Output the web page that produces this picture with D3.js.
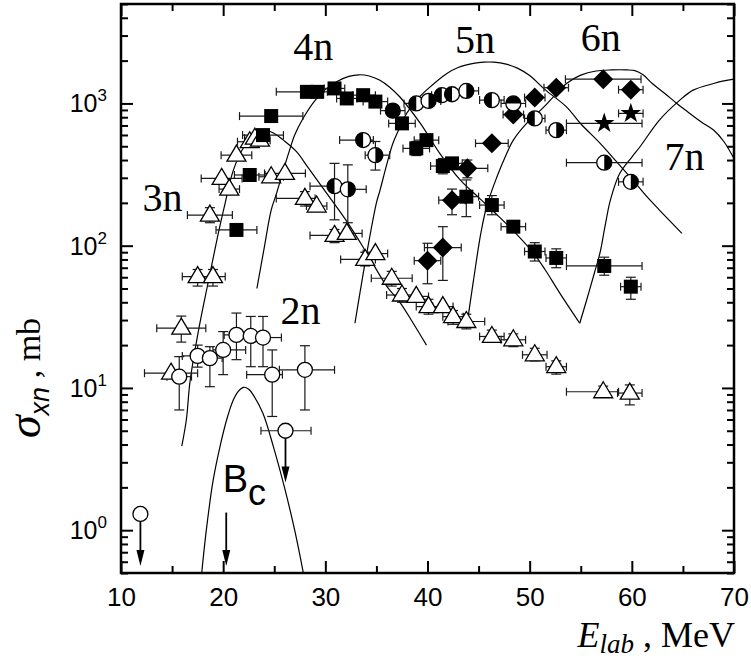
<!DOCTYPE html>
<html><head><meta charset="utf-8">
<script src="https://cdn.jsdelivr.net/npm/d3@7"></script>
<style>body{margin:0;background:#fff;} svg{display:block;}</style>
</head><body><svg id="c" width="751" height="664"></svg>
<script>
// ---------- data ----------
const xTicks = [10, 20, 30, 40, 50, 60, 70];
const xMinorTicks = [15, 25, 35, 45, 55, 65];
const yTicks = [1, 10, 100, 1000];
const yTickExp = ["0", "1", "2", "3"];
const yMinorTicks = [0.5,0.6,0.7,0.8,0.9,2,3,4,5,6,7,8,9,20,30,40,50,60,70,80,90,200,300,400,500,600,700,800,900,2000,3000,4000,5000];

// theory curves [E, sigma]
const curve2n = [[17.9,0.5],[18.35,1.0],[19.0,2.2],[19.7,3.9],[20.35,6.0],[21.0,8.25],[21.5,9.5],[22.0,10.1],[22.5,9.8],[23.0,8.8],[23.9,6.6],[24.9,3.9],[26.0,2.0],[27.0,1.0],[27.85,0.5]];
const curve3n = [[15.95,3.9],[16.4,6],[16.75,11],[17.57,25],[18.55,56],[19.5,120],[20.2,200],[21.0,340],[22.0,490],[23.0,590],[24.0,650],[25.0,615],[25.9,552],[27.2,457],[28.3,355],[30.1,235],[32.1,148],[34.0,90],[36.0,52],[37.3,40],[38.6,28.5],[39.9,20]];
const curve4n = [[23.3,50],[24.0,95],[24.7,178],[25.2,230],[26.0,360],[26.5,470],[27.0,600],[27.8,780],[29.0,1050],[30.0,1250],[31.1,1420],[32.3,1550],[33.3,1590],[34.3,1560],[35.3,1460],[36.3,1300],[37.3,1110],[39.3,724],[41.2,446],[43.2,290],[45.1,215],[46.8,165],[48.5,125],[50.3,90],[51.5,68],[52.9,47],[54.9,28.5]];
const curve5n = [[32.9,28.5],[34.0,84],[35.0,200],[35.35,245],[36.0,370],[36.6,520],[37.3,680],[37.95,850],[39.0,1070],[39.9,1240],[41.9,1625],[43.0,1790],[44.5,1910],[45.5,1950],[46.5,1950],[47.7,1890],[48.8,1770],[50.0,1570],[51.5,1250],[53.6,946],[55.0,720],[56.9,524],[58.5,390],[60.1,289],[61.5,220],[62.7,178],[64.9,122]];
const curve6n = [[43.9,29],[44.5,57],[45.2,120],[45.8,190],[46.8,305],[47.6,420],[48.4,552],[49.7,724],[51.5,960],[52.5,1150],[53.6,1380],[55.0,1580],[56.5,1690],[58.0,1720],[59.5,1720],[60.3,1700],[61.1,1590],[62.0,1380],[63.2,1180],[64.4,1000],[65.4,880],[66.8,740],[68.0,650],[69.0,540],[70,410]];
const curve7n = [[54.9,28.5],[55.6,42],[56.3,63],[56.9,90],[57.4,140],[57.9,209],[58.8,320],[60.0,420],[60.8,496],[62.7,764],[64.7,1055],[66.0,1240],[68.0,1380],[69.0,1440],[70,1480]];

// data points: [E, sigma, dxLeft, dxRight, sigmaLow, sigmaHigh]
const triangles = [
 [14.9,12.7,2.6,2.6,0,0],[15.9,26.3,2.4,2.4,21,32],[17.5,60.6,1.5,1.5,52,68],[19.0,60.6,1.2,1.2,52,68],
 [18.7,164,2.2,2.2,145,185],[19.85,297,2.0,2.0,0,0],[20.6,250,1.0,1.0,0,0],[21.3,433,1.5,1.5,0,0],
 [22.6,538,1.2,1.2,0,0],[23.1,570,1.0,1.0,0,0],[23.6,552,1.0,1.0,0,0],[24.7,305,1.2,1.2,0,0],
 [26.05,322,2.0,2.0,0,0],[28.0,215,2.8,1.0,190,240],[29.15,190,1.0,1.0,0,0],[30.9,118,2.4,1.0,105,130],
 [32.1,122,1.5,1.5,0,0],[33.9,80,2.4,1.0,72,90],[34.9,88,1.2,1.2,0,0],[36.5,59,2.0,2.0,52,66],
 [37.5,45,1.5,1.5,40,50],[38.9,44,1.2,1.2,0,0],[40.1,37.3,1.2,1.2,33,42],[41.5,37.3,1.0,1.0,0,0],
 [42.5,31.7,1.0,1.0,28,35],[43.8,29.3,1.8,1.8,26,33],[46.3,23,1.2,1.2,21,25.5],[48.4,21.8,1.2,1.2,19.5,24],
 [50.5,17.1,1.2,1.2,15.5,19],[52.6,14.1,1.0,1.0,12.5,15.5],[57.2,9.4,3.6,1.5,8.6,10.3],[59.8,9.2,1.2,1.2,7.6,10.5]
];
const squares = [
 [21.3,129,2.0,2.0,118,140],[22.6,314,1.5,1.5,290,340],[23.9,599,2.0,2.0,550,650],[24.7,815,3.1,3.1,0,0],
 [28.2,1206,3.0,1.0,0,0],[29.2,1206,1.0,1.0,0,0],[30.9,1275,1.0,1.0,0,0],[32.1,1084,1.0,1.0,0,0],
 [33.7,1143,1.0,1.2,0,0],[34.9,1030,1.2,1.2,0,0],[37.5,724,1.3,1.3,0,0],[38.9,483,1.3,1.3,430,540],
 [39.9,552,1.2,1.2,0,0],[41.5,363,1.2,1.2,320,410],[42.4,379,1.0,1.0,0,0],[43.8,221,1.2,1.2,160,290],
 [46.3,193,1.2,1.2,165,225],[48.4,136,1.2,1.2,0,0],[50.5,91,1.0,1.0,78,105],[52.6,82,1.0,1.0,70,95],
 [57.3,72,3.7,3.7,62,83],[59.9,51.5,1.0,1.0,42,60]
];
const diamonds = [
 [40.0,78.5,1.3,1.3,54,104],[41.5,97,1.8,1.8,57,136],[42.4,209,1.3,1.3,165,250],[43.9,350,2.0,2.0,300,400],
 [46.3,524,1.6,1.6,0,0],[48.4,835,1.0,1.0,0,0],[50.5,1100,1.0,1.0,0,0],[52.6,1290,1.2,1.2,0,0],
 [57.2,1480,3.7,3.7,0,0],[59.9,1250,1.2,1.2,0,0]
];
const stars = [[57.3,724,3.7,3.7,0,0],[59.9,851,1.2,1.2,0,0]];
// half-filled circles: last field = which part is black (L, R, F = full, T = top)
const halfCircles = [
 [30.9,262,2.4,1.0,152,379,"L"],[32.2,249,1.0,1.8,145,370,"R"],[33.7,553,2.3,1.0,0,0,"L"],[34.9,433,1.0,1.4,340,540,"R"],
 [36.6,890,1.2,1.2,0,0,"F"],[38.9,1000,1.2,1.2,0,0,"L"],[40.1,1042,1.2,1.2,0,0,"R"],[41.4,1143,1.0,1.0,0,0,"L"],
 [42.4,1160,1.0,1.0,0,0,"L"],[43.8,1225,1.2,1.2,0,0,"R"],[46.3,1055,1.2,1.2,0,0,"L"],[48.4,1000,1.2,1.2,0,0,"T"],
 [50.5,785,1.0,1.0,0,0,"L"],[52.6,649,1.0,1.0,0,0,"R"],[57.3,383,3.7,3.7,0,0,"R"],[59.9,281,1.2,1.2,0,0,"R"]
];
const openCircles = [
 [15.7,12.0,1.2,1.2,7.0,16.6],[17.5,16.8,1.5,1.5,14,20],[18.7,16.2,1.2,1.2,10.2,19.5],[20.0,18.5,1.0,2.2,12.4,24.9],
 [21.3,23.6,1.2,1.2,15.8,33.6],[22.7,23.2,1.2,1.2,14.1,31.8],[23.9,22.6,1.2,1.8,14.1,31.8],[24.8,12.4,2.5,1.0,6.3,18.5],
 [28.0,13.4,2.5,2.9,7.0,19.8]
];
// upper limits: [E, sigma, dxLeft, dxRight, arrowTipSigma]
const upperLimits = [[26.1,5.0,2.4,2.5,2.16],[11.9,1.3,0,0,0.56]];
const barrier = [20.3, 1.33, 0.56]; // B_c arrow: E, from, to
const curveLabels = [["2n",25.6,28],["3n",12.1,175],["4n",26.85,2020],["5n",42.7,2265],["6n",55.0,2340],["7n",63.2,340]];

// ---------- layout ----------
const M = {l:121, r:734, t:4, b:573};
const x = d3.scaleLinear().domain([10,70]).range([M.l, M.r]);
const y = d3.scaleLog().domain([0.5,5000]).range([M.b, M.t]);
const svg = d3.select("#c");
const serif = "'Liberation Serif','Times New Roman',serif";
const sans = "'Liberation Sans',Arial,sans-serif";

svg.append("clipPath").attr("id","clip").append("rect")
  .attr("x",M.l).attr("y",M.t).attr("width",M.r-M.l).attr("height",M.b-M.t);

// ---------- axes ----------
function styleAxis(g){ g.select(".domain").remove(); g.selectAll("line").attr("stroke","#000").attr("stroke-width",2); }
svg.append("g").attr("transform",`translate(0,${M.b})`)
  .call(d3.axisBottom(x).tickValues(xTicks).tickSize(-12).tickPadding(15).tickFormat(d3.format("d")))
  .call(styleAxis).call(g=>g.selectAll("text").attr("font-family",sans).attr("font-size",26).attr("fill","#000"));
svg.append("g").attr("transform",`translate(0,${M.b})`)
  .call(d3.axisBottom(x).tickValues(xMinorTicks).tickSize(-7).tickFormat("")).call(styleAxis);
svg.append("g").attr("transform",`translate(0,${M.t})`)
  .call(d3.axisTop(x).tickValues(xTicks).tickSize(-12).tickFormat("")).call(styleAxis);
svg.append("g").attr("transform",`translate(0,${M.t})`)
  .call(d3.axisTop(x).tickValues(xMinorTicks).tickSize(-7).tickFormat("")).call(styleAxis);
svg.append("g").attr("transform",`translate(${M.l},0)`)
  .call(d3.axisLeft(y).tickValues(yTicks).tickSize(-12).tickFormat("")).call(styleAxis);
svg.append("g").attr("transform",`translate(${M.l},0)`)
  .call(d3.axisLeft(y).tickValues(yMinorTicks).tickSize(-7).tickFormat("")).call(styleAxis);
svg.append("g").attr("transform",`translate(${M.r},0)`)
  .call(d3.axisRight(y).tickValues(yTicks).tickSize(-12).tickFormat("")).call(styleAxis);
svg.append("g").attr("transform",`translate(${M.r},0)`)
  .call(d3.axisRight(y).tickValues(yMinorTicks).tickSize(-7).tickFormat("")).call(styleAxis);

// y tick labels 10^n
yTicks.forEach((v,i)=>{
  const t = svg.append("text").attr("x",M.l-14).attr("y",y(v)+9).attr("text-anchor","end")
    .attr("font-family",sans).attr("fill","#000");
  t.append("tspan").attr("font-size",25).text("10");
  t.append("tspan").attr("font-size",17).attr("dy",-11).text(yTickExp[i]);
});

// frame
svg.append("rect").attr("x",M.l).attr("y",M.t).attr("width",M.r-M.l).attr("height",M.b-M.t)
  .attr("fill","none").attr("stroke","#000").attr("stroke-width",2.5);

// ---------- curves ----------
const line = d3.line().x(d=>x(d[0])).y(d=>y(d[1])).curve(d3.curveCatmullRom.alpha(0.5));
const cg = svg.append("g").attr("clip-path","url(#clip)");
[curve2n,curve3n,curve4n,curve5n,curve6n,curve7n].forEach(c=>{
  cg.append("path").attr("d",line(c)).attr("fill","none").attr("stroke","#000").attr("stroke-width",1.2);
});

// ---------- error bars ----------
const eg = svg.append("g").attr("stroke","#1a1a1a").attr("stroke-width",1.2).attr("fill","none");
function errorBars(data){
  data.forEach(d=>{
    const cx=x(d[0]), cy=y(d[1]);
    if(d[2]||d[3]){
      const x1=x(d[0]-d[2]), x2=x(d[0]+d[3]);
      eg.append("line").attr("x1",x1).attr("x2",x2).attr("y1",cy).attr("y2",cy);
      if(d[2]) eg.append("line").attr("x1",x1).attr("x2",x1).attr("y1",cy-4).attr("y2",cy+4);
      if(d[3]) eg.append("line").attr("x1",x2).attr("x2",x2).attr("y1",cy-4).attr("y2",cy+4);
    }
    if(d[4]&&d[5]){
      const y1=y(d[4]), y2=y(d[5]);
      eg.append("line").attr("x1",cx).attr("x2",cx).attr("y1",y1).attr("y2",y2);
      eg.append("line").attr("x1",cx-5).attr("x2",cx+5).attr("y1",y1).attr("y2",y1);
      eg.append("line").attr("x1",cx-5).attr("x2",cx+5).attr("y1",y2).attr("y2",y2);
    }
  });
}
[triangles,squares,diamonds,stars,halfCircles,openCircles].forEach(errorBars);
upperLimits.forEach(d=>{
  const cy=y(d[1]);
  if(d[2]){
    const x1=x(d[0]-d[2]), x2=x(d[0]+d[3]);
    eg.append("line").attr("x1",x1).attr("x2",x2).attr("y1",cy).attr("y2",cy);
    eg.append("line").attr("x1",x1).attr("x2",x1).attr("y1",cy-4).attr("y2",cy+4);
    eg.append("line").attr("x1",x2).attr("x2",x2).attr("y1",cy-4).attr("y2",cy+4);
  }
});

// ---------- markers ----------
const mg = svg.append("g");
function arrow(E, s1, s2){
  const cx=x(E), y1=y(s1), y2=y(s2);
  mg.append("line").attr("x1",cx).attr("x2",cx).attr("y1",y1).attr("y2",y2-12).attr("stroke","#000").attr("stroke-width",1.8);
  mg.append("path").attr("d",`M${cx-4},${y2-16}L${cx+4},${y2-16}L${cx},${y2}Z`).attr("fill","#000");
}
upperLimits.forEach(d=>arrow(d[0], d[1], d[4]));
arrow(barrier[0], barrier[1], barrier[2]);

triangles.forEach(d=>{
  mg.append("path").attr("transform",`translate(${x(d[0])},${y(d[1])})`)
    .attr("d","M0,-10L9.5,6L-9.5,6Z").attr("fill","#fff").attr("stroke","#000").attr("stroke-width",1.3);
});
squares.forEach(d=>{
  mg.append("rect").attr("x",x(d[0])-7).attr("y",y(d[1])-7).attr("width",14).attr("height",14).attr("fill","#000");
});
diamonds.forEach(d=>{
  mg.append("path").attr("transform",`translate(${x(d[0])},${y(d[1])})`)
    .attr("d","M0,-10L10,0L0,10L-10,0Z").attr("fill","#000");
});
stars.forEach(d=>{
  mg.append("path").attr("transform",`translate(${x(d[0])},${y(d[1])})`)
    .attr("d",d3.symbol(d3.symbolStar,130)()).attr("fill","#000");
});
openCircles.concat(upperLimits).forEach(d=>{
  mg.append("circle").attr("cx",x(d[0])).attr("cy",y(d[1])).attr("r",7.5)
    .attr("fill","#fff").attr("stroke","#000").attr("stroke-width",1.3);
});
const r=7.5;
const halfPath = {L:`M0,${-r}A${r},${r} 0 0 0 0,${r}Z`, R:`M0,${-r}A${r},${r} 0 0 1 0,${r}Z`, T:`M${-r},0A${r},${r} 0 0 1 ${r},0Z`};
halfCircles.forEach(d=>{
  const g = mg.append("g").attr("transform",`translate(${x(d[0])},${y(d[1])})`);
  g.append("circle").attr("r",r).attr("fill", d[6]==="F"?"#000":"#fff");
  if(d[6]!=="F") g.append("path").attr("d",halfPath[d[6]]).attr("fill","#000");
  g.append("circle").attr("r",r).attr("fill","none").attr("stroke","#000").attr("stroke-width",1.3);
});

// ---------- labels ----------
curveLabels.forEach(l=>{
  svg.append("text").attr("x",x(l[1])).attr("y",y(l[2])).attr("font-family",serif).attr("font-size",40)
    .attr("fill","#000").text(l[0]);
});
const bc = svg.append("text").attr("x",x(19.95)).attr("y",y(1.85)).attr("font-family",sans).attr("fill","#000");
bc.append("tspan").attr("font-size",38).text("B");
bc.append("tspan").attr("font-size",36).attr("dy",13).text("c");

// axis titles
const xt = svg.append("text").attr("x",735).attr("y",647).attr("text-anchor","end").attr("font-family",serif).attr("fill","#000");
xt.append("tspan").attr("font-size",36).attr("font-style","italic").text("E");
xt.append("tspan").attr("font-size",27).attr("font-style","italic").attr("dy",6).text("lab");
xt.append("tspan").attr("font-size",36).attr("dy",-6).text(" , MeV");

const yt = svg.append("text").attr("transform",`translate(40,378) rotate(-90)`).attr("text-anchor","middle").attr("font-family",serif).attr("fill","#000");
yt.append("tspan").attr("font-size",46).attr("font-style","italic").text("σ");
yt.append("tspan").attr("font-size",27).attr("font-style","italic").attr("font-family",sans).attr("dy",9).text("xn");
yt.append("tspan").attr("font-size",34).attr("dy",-9).text(" , mb");
</script></body></html>
